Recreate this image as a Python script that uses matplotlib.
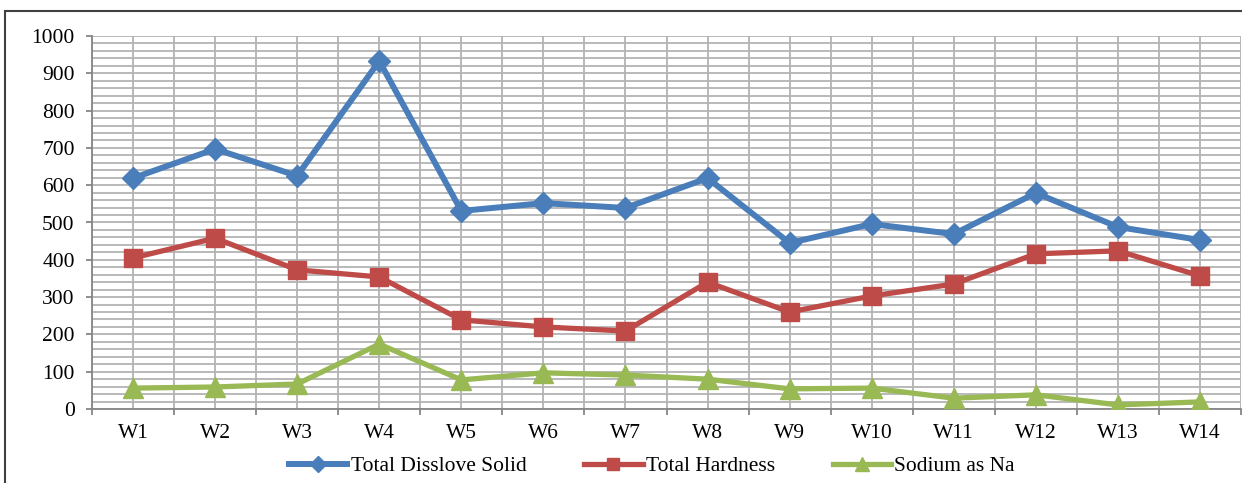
import matplotlib
matplotlib.use("Agg")
import matplotlib.pyplot as plt
from matplotlib.patches import Rectangle
from matplotlib.ticker import MultipleLocator
import numpy as np

# Water-quality parameters for wells W1..W14 (mg/L)
wells = ["W1", "W2", "W3", "W4", "W5", "W6", "W7",
         "W8", "W9", "W10", "W11", "W12", "W13", "W14"]
total_dissolved_solids = [619, 697, 625, 933, 531, 552, 539,
                          619, 445, 496, 469, 579, 488, 453]
total_hardness = [405, 458, 373, 354, 239, 220, 209,
                  340, 260, 303, 335, 416, 424, 357]
sodium = [56, 59, 67, 174, 78, 97, 91,
          80, 54, 56, 29, 38, 11, 19]

series_labels = ["Total Disslove Solid", "Total Hardness", "Sodium as Na"]

plt.rcParams["font.family"] = ["Liberation Serif", "DejaVu Serif"]

W, H = 1242, 483
fig = plt.figure(figsize=(W / 100, H / 100), dpi=100)
ax = fig.add_axes([92 / W, (H - 409) / H, (1241 - 92) / W, (409 - 36) / H])

x = np.arange(len(wells))
grid_c = "#b3b3b3"

ax.plot(x, total_dissolved_solids, color="#4a7ebb", lw=4.3, marker="D",
        ms=11, mec="#4a7ebb", mfc="#4a7ebb", label=series_labels[0], zorder=5)
ax.plot(x, total_hardness, color="#be4b48", lw=3.8, marker="s",
        ms=13, mec="#be4b48", mfc="#be4b48", label=series_labels[1], zorder=4)
ax.plot(x, sodium, color="#98b954", lw=3.8, marker="^",
        ms=15, mec="#98b954", mfc="#98b954", label=series_labels[2], zorder=3)

ax.set_xlim(-0.5, len(wells) - 0.5)
ax.set_ylim(0, 1000)

# horizontal grid every 20, vertical grid at category edges and centres
ax.yaxis.set_major_locator(MultipleLocator(100))
ax.yaxis.set_minor_locator(MultipleLocator(20))
ax.set_xticks(x)
ax.set_xticklabels(wells)
ax.set_xticks(np.arange(-0.5, len(wells), 1.0), minor=True)

ax.grid(True, which="both", axis="y", color=grid_c, lw=1.3, zorder=0)
for v in np.arange(-0.5, len(wells) + 0.01, 0.5):
    ax.axvline(v, color=grid_c, lw=1.3, zorder=0)
ax.set_axisbelow(True)

for s in ["top", "right"]:
    ax.spines[s].set_visible(False)
for s in ["left", "bottom"]:
    ax.spines[s].set_color("#868686")
    ax.spines[s].set_linewidth(1.3)

ax.tick_params(axis="y", which="major", direction="out", length=4.5,
               width=1.3, color="#868686", pad=8, labelsize=15.5)
ax.tick_params(axis="y", which="minor", length=0)
ax.tick_params(axis="x", which="major", length=0, pad=11, labelsize=15.5)
ax.tick_params(axis="x", which="minor", direction="out", length=4.5,
               width=1.3, color="#868686")

leg = fig.legend(loc="center", bbox_to_anchor=(652 / W, 1 - 466 / H),
                 ncol=3, frameon=False, fontsize=15.5, handlelength=2.7,
                 handletextpad=0.15, columnspacing=2.7, markerscale=0.7)

# outer chart-area frame
fig.patches.append(Rectangle((5 / W, -0.2), 1.2, 1 - 11 / H + 0.2,
                             transform=fig.transFigure, fill=False,
                             edgecolor="#404040", lw=1.5, clip_on=False))

fig.savefig("out.png", dpi=100)
